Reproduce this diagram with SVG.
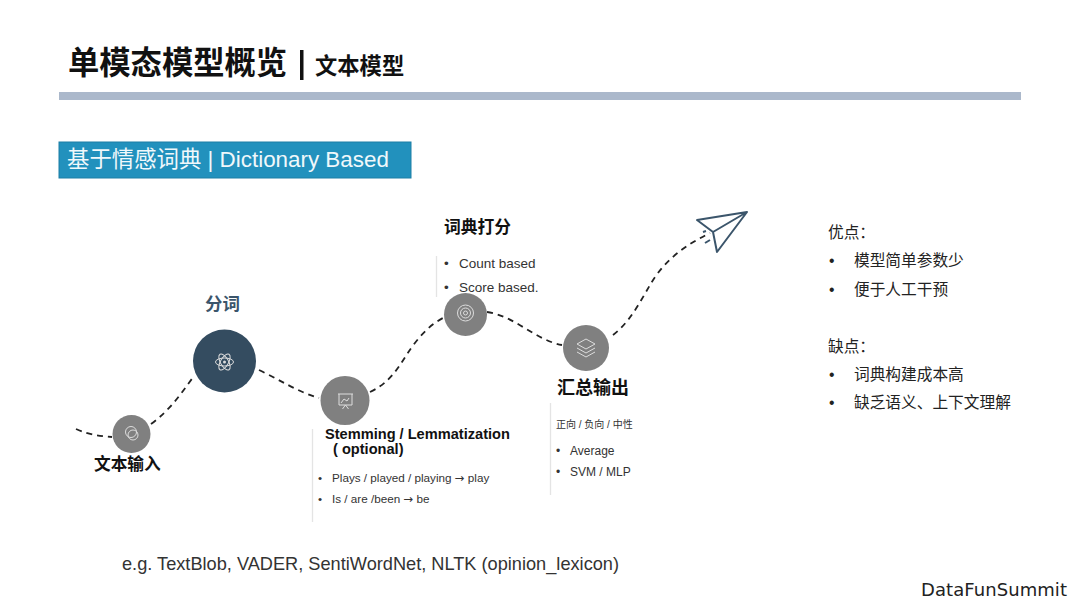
<svg xmlns="http://www.w3.org/2000/svg" width="1080" height="608" viewBox="0 0 1080 608">
<style>
text{font-family:"Liberation Sans","Noto Sans CJK SC",sans-serif;fill:#222}
.h{font-weight:700;fill:#111}
.b{font-size:13.500px;fill:#333}
.s{font-size:12px;fill:#333}
.t{font-size:11.700px;fill:#333}
.a{font-family:"DejaVu Sans",sans-serif}
.c{font-size:15.700px;fill:#222}
.d{fill:none;stroke:#222;stroke-width:1.800;stroke-dasharray:6 5}
.sep{stroke:#e4e4e4;stroke-width:1.300}
.i{fill:none;stroke:#ddd;stroke-width:1}
.g{fill:#808080}
.p{fill:none;stroke:#3b556b;stroke-width:2;stroke-linejoin:round}
</style>
<rect width="1080" height="608" fill="#fff"/>
<text x="68" y="74" class="h" font-size="31.300">单模态模型概览</text>
<rect x="300" y="50" width="3.500" height="30" fill="#111"/>
<text x="315" y="74" class="h" font-size="22.300">文本模型</text>
<rect x="59" y="92" width="962" height="8" fill="#abb8cb"/>
<rect x="59" y="142" width="352" height="36" fill="#2291bd" stroke="#1d7ea5"/>
<text x="67" y="167" font-size="22.400" style="fill:#f0f8fb">基于情感词典 | Dictionary Based</text>
<g id="connectors">
<path class="d" d="M76 429C90 435 100 436 112 437"/>
<path class="d" d="M151 424C170 410 180 395 194 376"/>
<path class="d" d="M259 370C280 380 298 392 319 398"/>
<path class="d" d="M370 392C385 385 393 375 400 365S420 330 443 318"/>
<path class="d" d="M487 312C515 316 535 340 562 345"/>
<path class="d" d="M613 335C630 322 640 302 650 285S675 250 710 233"/>
</g>
<g id="node-input">
<circle class="g" cx="131.500" cy="434" r="19"/>
<circle class="i" cx="131" cy="432" r="5.500"/><circle class="i" cx="133" cy="435" r="5"/>
<text x="94" y="470" class="h" font-size="16.700">文本输入</text>
</g>
<g id="node-tokenize">
<circle cx="224.500" cy="361" r="31.500" fill="#344c60"/>
<g class="i"><ellipse cx="224.500" cy="362" rx="9" ry="4"/><ellipse cx="224.500" cy="362" rx="9" ry="4" transform="rotate(60 224.500 362)"/><ellipse cx="224.500" cy="362" rx="9" ry="4" transform="rotate(-60 224.500 362)"/></g>
<circle cx="224.500" cy="362" r="1.500" fill="#ddd"/>
<text x="205" y="310" class="h" font-size="17.500" style="fill:#3b556b">分词</text>
</g>
<g id="node-stem">
<circle class="g" cx="345" cy="400.500" r="24.500"/>
<path class="i" d="M338 394h15M339 394v11h13v-11M345.500 405l-3 4M345.500 405l3 4M341 403l3-4 3 2 2-3"/>
<text x="325" y="439" class="h" font-size="14.600">Stemming / Lemmatization</text>
<text x="333" y="454" class="h" font-size="14.600">( optional)</text>
<path class="sep" d="M312.500 429V522"/>
<text x="318" y="482" class="t">•</text><text x="332" y="482" class="t">Plays / played / playing <tspan class="a">→</tspan> play</text>
<text x="318" y="503" class="t">•</text><text x="332" y="503" class="t">Is / are /been <tspan class="a">→</tspan> be</text>
</g>
<g id="node-score">
<circle class="g" cx="465.500" cy="314.500" r="21.500"/>
<circle class="i" cx="465.500" cy="313" r="8"/><circle class="i" cx="465.500" cy="313" r="5"/><circle class="i" cx="465.500" cy="313" r="2"/>
<text x="444" y="233" class="h" font-size="16.800">词典打分</text>
<path class="sep" d="M436.500 256V297"/>
<text x="444" y="267.500" class="b">•</text><text x="459" y="267.500" class="b">Count based</text>
<text x="444" y="292" class="b">•</text><text x="459" y="292" class="b">Score based.</text>
</g>
<g id="node-output">
<circle class="g" cx="586" cy="348" r="23"/>
<path class="i" d="M586 339l9 5-9 5-9-5zM577 348l9 5 9-5M577 352l9 5 9-5"/>
<text x="557" y="394" class="h" font-size="18">汇总输出</text>
<path class="sep" d="M550.500 403V495"/>
<text x="556" y="428" font-size="10" style="fill:#333">正向 / 负向 / 中性</text>
<text x="556" y="455" class="s">•</text><text x="570" y="455" class="s">Average</text>
<text x="556" y="476" class="s">•</text><text x="570" y="476" class="s">SVM / MLP</text>
</g>
<g id="node-plane">
<path class="p" d="M697 220L747 212L717 252L713 232ZM713 232L747 212"/>
<path class="p" stroke-width="1.500" d="M703 232L706 231M705 243L710 240"/>
</g>
<g id="pros-cons">
<text x="828" y="238" class="c">优点：</text>
<text x="829" y="266" class="c">•</text><text x="854" y="266" class="c">模型简单参数少</text>
<text x="829" y="295" class="c">•</text><text x="854" y="295" class="c">便于人工干预</text>
<text x="828" y="352" class="c">缺点：</text>
<text x="829" y="380" class="c">•</text><text x="854" y="380" class="c">词典构建成本高</text>
<text x="829" y="408" class="c">•</text><text x="854" y="408" class="c">缺乏语义、上下文理解</text>
</g>
<text x="122" y="570" font-size="18.200" style="fill:#333">e.g. TextBlob, VADER, SentiWordNet, NLTK (opinion_lexicon)</text>
<text x="921" y="596" font-size="18" font-weight="500" style="font-family:'DejaVu Sans',sans-serif;fill:#222" textLength="146">DataFunSummit</text>
</svg>
